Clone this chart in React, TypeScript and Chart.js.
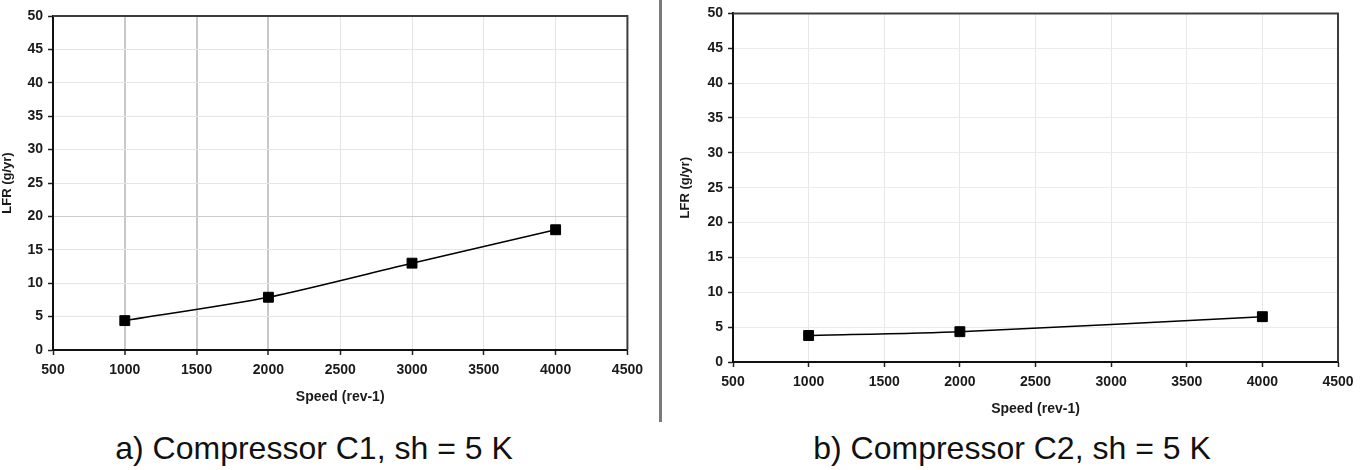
import React, { useEffect, useRef } from "react";
import { Chart, registerables } from "chart.js";

Chart.register(...registerables);

// ---- data ----
const speedTicks = [500, 1000, 1500, 2000, 2500, 3000, 3500, 4000, 4500];
const lfrTicks = [0, 5, 10, 15, 20, 25, 30, 35, 40, 45, 50];

const speedsC1 = [1000, 2000, 3000, 4000];
const lfrC1 = [4.4, 7.9, 13.0, 18.0];

const speedsC2 = [1000, 2000, 4000];
const lfrC2 = [3.8, 4.35, 6.5];

const xTitle = "Speed (rev-1)";
const yTitle = "LFR (g/yr)";
const captionA = "a) Compressor C1, sh = 5 K";
const captionB = "b) Compressor C2, sh = 5 K";

const FONT = "'Liberation Sans', Arial, Helvetica, sans-serif";

const framePlugin = {
  id: "frame",
  beforeDatasetsDraw(chart: any) {
    const { ctx, chartArea } = chart;
    const { left, top, right, bottom } = chartArea;
    ctx.save();
    ctx.strokeStyle = "#3c3c3c";
    ctx.lineWidth = 2;
    ctx.beginPath();
    ctx.moveTo(left, top);
    ctx.lineTo(right, top);
    ctx.lineTo(right, bottom);
    ctx.stroke();
    ctx.restore();
  },
};

type Opts = {
  xs: number[];
  ys: number[];
  padTop: number;
  padRight: number;
  yWidth: number;
  xHeight: number;
  xGridColor: (v: number) => string;
  xGridWidth: (v: number) => number;
  yGridColor: (v: number) => string;
};

function makeConfig(o: Opts): any {
  const points = o.xs.map((x, i) => ({ x, y: o.ys[i] }));
  return {
    type: "line",
    data: {
      datasets: [
        {
          data: points,
          borderColor: "#000",
          borderWidth: 1.5,
          backgroundColor: "#000",
          pointStyle: "rect",
          pointRadius: 7,
          pointBorderWidth: 1,
          pointBackgroundColor: "#000",
          pointBorderColor: "#000",
          tension: 0.25,
          fill: false,
        },
      ],
    },
    options: {
      animation: false,
      responsive: false,
      maintainAspectRatio: false,
      devicePixelRatio: 1,
      layout: { padding: { top: o.padTop, right: o.padRight, left: 0, bottom: 0 } },
      plugins: { legend: { display: false }, tooltip: { enabled: false }, title: { display: false } },
      scales: {
        x: {
          type: "linear",
          min: speedTicks[0],
          max: speedTicks[speedTicks.length - 1],
          afterBuildTicks: (s: any) => {
            s.ticks = speedTicks.map((v) => ({ value: v }));
          },
          afterFit: (s: any) => {
            s.height = o.xHeight;
          },
          border: { display: true, color: "#111", width: 2 },
          grid: {
            color: (c: any) => (c.tick ? o.xGridColor(c.tick.value) : "#e6e6e6"),
            lineWidth: (c: any) => (c.tick ? o.xGridWidth(c.tick.value) : 1),
            tickColor: "#222",
            tickWidth: 1.5,
            tickLength: 5,
            drawTicks: true,
          },
          ticks: {
            color: "#1a1a1a",
            font: { family: FONT, size: 14, weight: "bold" },
            padding: 7,
            maxRotation: 0,
            autoSkip: false,
            callback: (v: any) => String(v),
          },
          title: {
            display: true,
            text: xTitle,
            color: "#1a1a1a",
            font: { family: FONT, size: 14, weight: "bold" },
            padding: 0,
          },
        },
        y: {
          type: "linear",
          min: lfrTicks[0],
          max: lfrTicks[lfrTicks.length - 1],
          afterBuildTicks: (s: any) => {
            s.ticks = lfrTicks.map((v) => ({ value: v }));
          },
          afterFit: (s: any) => {
            s.width = o.yWidth;
          },
          border: { display: true, color: "#111", width: 2 },
          grid: {
            color: (c: any) => (c.tick ? o.yGridColor(c.tick.value) : "#e6e6e6"),
            lineWidth: 1,
            tickColor: "#222",
            tickWidth: 1.5,
            tickLength: 5,
            drawTicks: true,
          },
          ticks: {
            color: "#1a1a1a",
            font: { family: FONT, size: 14, weight: "bold" },
            padding: 5,
            autoSkip: false,
            callback: (v: any) => String(v),
          },
          title: {
            display: true,
            text: yTitle,
            color: "#1a1a1a",
            font: { family: FONT, size: 13, weight: "bold" },
            padding: 0,
          },
        },
      },
    },
    plugins: [framePlugin],
  };
}

function ChartBox(props: { left: number; top: number; width: number; height: number; config: any }) {
  const ref = useRef<HTMLCanvasElement | null>(null);
  useEffect(() => {
    if (!ref.current) return;
    const chart = new Chart(ref.current, props.config);
    return () => chart.destroy();
  }, []);
  return (
    <canvas
      ref={ref}
      width={props.width}
      height={props.height}
      style={{
        position: "absolute",
        left: props.left,
        top: props.top,
        width: props.width,
        height: props.height,
      }}
    />
  );
}

const emphasizedX = [1000, 1500, 2000];

const configA = makeConfig({
  xs: speedsC1,
  ys: lfrC1,
  padTop: 16,
  padRight: 20,
  yWidth: 53,
  xHeight: 56,
  xGridColor: (v) => (emphasizedX.includes(v) ? "#c8c8c8" : "#e4e4e4"),
  xGridWidth: (v) => (emphasizedX.includes(v) ? 2 : 1),
  yGridColor: (v) => (v === 20 ? "#cdcdcd" : "#e6e6e6"),
});

const configB = makeConfig({
  xs: speedsC2,
  ys: lfrC2,
  padTop: 10,
  padRight: 26,
  yWidth: 55,
  xHeight: 56,
  xGridColor: () => "#e8e8e8",
  xGridWidth: () => 1,
  yGridColor: () => "#ebebeb",
});

const captionStyle: React.CSSProperties = {
  position: "absolute",
  top: 432,
  fontFamily: FONT,
  fontSize: 32,
  lineHeight: "32px",
  color: "#111",
  whiteSpace: "nowrap",
  transform: "translateX(-50%)",
};

export default function App() {
  return (
    <div
      style={{
        position: "absolute",
        left: 0,
        top: 0,
        width: 1364,
        height: 470,
        background: "#fff",
        overflow: "hidden",
      }}
    >
      <ChartBox left={0} top={0} width={650} height={406} config={configA} />
      <ChartBox left={678} top={0} width={686} height={418} config={configB} />
      <div
        style={{
          position: "absolute",
          left: 659,
          top: 0,
          width: 3,
          height: 422,
          background: "#7a7a7a",
        }}
      />
      <div style={{ ...captionStyle, left: 314 }}>{captionA}</div>
      <div style={{ ...captionStyle, left: 1012 }}>{captionB}</div>
    </div>
  );
}
